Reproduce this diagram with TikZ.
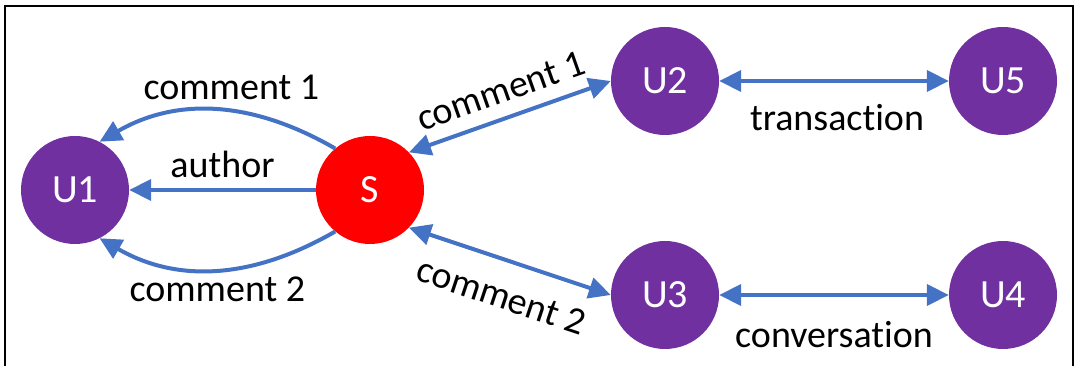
\documentclass[tikz,border=0pt]{standalone}
\usepackage{fontspec}
\setmainfont{Carlito}[Ligatures=NoCommon]
\usetikzlibrary{arrows.meta}
\definecolor{userpurple}{HTML}{7030A0}
\definecolor{linkblue}{HTML}{4472C4}
\newcommand{\lblfont}{\fontsize{38}{44}\selectfont}
\newcommand{\userfont}{\fontsize{40}{46}\selectfont}

\begin{document}
\begin{tikzpicture}[node distance={295pt}, >={Triangle[length=22pt, width=21pt]},
            user/.style = {circle, fill=userpurple, text=white, minimum size=108pt, inner sep=0pt, font=\userfont},
            post/.style = {user, fill=red},
            link/.style = {draw=linkblue, line width=4pt},
            lbl/.style = {font=\lblfont, inner sep=0pt}]
            \useasboundingbox (-75pt,-176pt) rectangle (1001pt,190pt);
            \draw[line width=2.3pt] (-70pt,-180pt) -- (-70pt,184pt) -- (998pt,184pt) -- (998pt,-180pt);

            \node[user] (U1) {U1};
            \node[post] (S) [right of=U1] {S};

            %left of the story

            \draw[link, ->] (S) -- (U1) node[lbl, midway, above=10pt] {author};
            \draw[link, ->] (S.130) to [out=150, in=30] node[lbl, midway, above=9pt, xshift=14pt] {comment 1} (U1.63);
            \draw[link, ->] (S.230) to [out=210, in=-30] node[lbl, midway, below=5pt] {comment 2} (U1.297);

            %right of the story

            \node[user] (U2) [right of=S, yshift=109pt] {U2};
            \node[user] (U3) [right of=S, yshift=-105pt] {U3};
            \node[user] (U5) [right of=U2, xshift=43pt] {U5};
            \node[user] (U4) [right of=U3, xshift=43pt] {U4};
            \draw[link, <->] (S.44) -- (U2.west) node[lbl, midway, sloped, above=13pt] {comment 1};
            \draw[link, <->] (S.-44) -- (U3.west) node[lbl, midway, sloped, below=21pt, xshift=3pt] {comment 2};
            \draw[link, <->] (U2) -- (U5) node[lbl, midway, below=21pt, xshift=3pt] {transaction};
            \draw[link, <->] (U3) -- (U4) node[lbl, midway, below=24pt] {conversation};
        \end{tikzpicture}
\end{document}
